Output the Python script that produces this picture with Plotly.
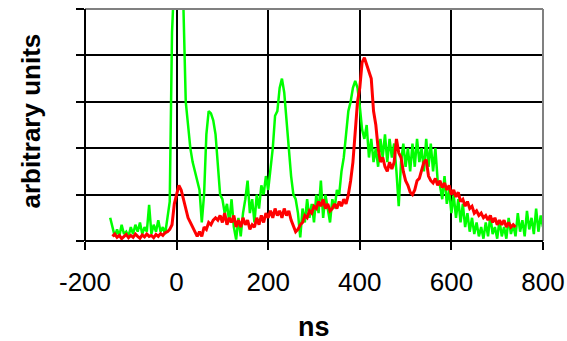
import plotly.graph_objects as go

# ---- data ----
green_start, green_step = -145, 5
green_vals = [
    0.5, 0.3, 0.1, 0.25, 0.1, 0.35, 0.15, 0.2, 0.1, 0.3,      # -145 .. -100
    0.15, 0.35, 0.2, 0.4, 0.15, 0.3, 0.2, 0.78, 0.15, 0.35,   # -95 .. -50
    0.2, 0.45, 0.2, 0.3, 0.15, 0.5, 0.85, 4.5, 7, 8,          # -45 .. 0
    8, 7, 5.0, 3.0, 2.5, 2.0, 1.7, 1.5, 1.3, 1.1,             # 5 .. 50
    0.4, 1.0, 2.3, 2.8, 2.75, 2.6, 2.3, 1.6, 1.0, 0.9,        # 55 .. 100
    0.6, 0.8, 0.4, 0.9, 0.3, 0.03, 0.5, 0.1, 0.6, 0.9,        # 105 .. 150
    1.3, 0.6, 0.9, 0.4, 1.0, 0.7, 1.2, 1.0, 1.4, 1.1,         # 155 .. 200
    1.6, 2.0, 2.7, 2.8, 3.3, 3.5, 3.2, 2.6, 2.0, 1.4,         # 205 .. 250
    1.0, 0.9, 0.6, 0.08, 0.7, 0.4, 0.9, 0.5, 0.8, 0.4,        # 255 .. 300
    1.0, 0.6, 1.3, 0.5, 1.0, 0.7, 0.4, 0.9, 0.7, 1.1,         # 305 .. 350
    1.0, 1.5, 1.8, 2.3, 2.8, 3.0, 3.3, 3.45, 3.3, 2.9,        # 355 .. 400
    2.4, 2.2, 2.5, 1.8, 2.2, 1.7, 2.0, 1.6, 2.2, 1.8,         # 405 .. 450
    2.3, 1.7, 2.2, 1.8, 2.1, 1.5, 0.75, 1.7, 2.1, 1.6,        # 455 .. 500
    2.0, 1.5, 2.1, 1.6, 2.2, 1.7, 2.0, 1.5, 2.2, 1.6,         # 505 .. 550
    2.1, 1.5, 2.0, 1.3, 1.2, 0.9, 1.4, 0.8, 1.1, 0.6,         # 555 .. 600
    1.0, 0.5, 0.9, 0.4, 0.8, 0.3, 0.6, 0.2, 0.5, 0.15,        # 605 .. 650
    0.4, 0.1, 0.3, 0.05, 0.4, 0.1, 0.55, 0.15, 0.3, 0.05,     # 655 .. 700
    0.45, 0.1, 0.3, 0.05, 0.5, 0.15, 0.35, 0.1, 0.6, 0.2,     # 705 .. 750
    0.45, 0.1, 0.65, 0.25, 0.5, 0.15, 0.7, 0.2, 0.55, 0.3,    # 755 .. 800
]

red_start, red_step = -140, 5
red_vals = [
    0.1, 0.15, 0.08, 0.12, 0.05, 0.1, 0.14, 0.07, 0.12, 0.08,   # -140 .. -95
    0.15, 0.1, 0.06, 0.13, 0.09, 0.15, 0.1, 0.12, 0.07, 0.14,   # -90 .. -45
    0.1, 0.16, 0.12, 0.18, 0.2, 0.25, 0.35, 0.8, 1.0, 1.2,      # -40 .. 5
    1.1, 0.9, 0.7, 0.5, 0.4, 0.3, 0.2, 0.1, 0.2, 0.1,           # 10 .. 55
    0.3, 0.25, 0.4, 0.35, 0.45, 0.5, 0.45, 0.55, 0.4, 0.6,      # 60 .. 105
    0.35, 0.5, 0.4, 0.55, 0.3, 0.45, 0.3, 0.5, 0.35, 0.45,      # 110 .. 155
    0.25, 0.35, 0.3, 0.5, 0.35, 0.55, 0.4, 0.6, 0.5, 0.65,      # 160 .. 205
    0.5, 0.7, 0.55, 0.65, 0.5, 0.7, 0.55, 0.65, 0.45, 0.3,      # 210 .. 255
    0.2, 0.25, 0.35, 0.4, 0.55, 0.5, 0.65, 0.6, 0.75, 0.7,      # 260 .. 305
    0.85, 0.75, 0.9, 0.7, 0.8, 0.65, 0.7, 0.8, 0.7, 0.85,       # 310 .. 355
    0.75, 0.9, 0.8, 1.0, 1.3, 1.7, 2.4, 3.0, 3.3, 3.85,         # 360 .. 405
    3.95, 3.8, 3.7, 3.5, 2.8, 2.5, 2.0, 1.7, 1.8, 1.6,          # 410 .. 455
    1.5, 1.7, 1.55, 1.7, 2.2, 1.9, 1.8, 1.5, 1.3, 1.2,          # 460 .. 505
    1.05, 1.0, 1.1, 1.3, 1.35, 1.5, 1.7, 1.75, 1.4, 1.3,        # 510 .. 555
    1.25, 1.35, 1.2, 1.3, 1.15, 1.25, 1.1, 1.2, 1.0, 1.1,       # 560 .. 605
    0.95, 1.05, 0.85, 0.9, 0.75, 0.85, 0.7, 0.75, 0.6, 0.65,    # 610 .. 655
    0.55, 0.6, 0.5, 0.55, 0.45, 0.55, 0.4, 0.5, 0.35, 0.45,     # 660 .. 705
    0.35, 0.45, 0.3, 0.4, 0.3, 0.35, 0.3,                       # 710 .. 740
]

x_ticks = [-200, 0, 200, 400, 600, 800]
x_tick_labels = ["-200", "0", "200", "400", "600", "800"]
y_ticks = [0, 1, 2, 3, 4, 5]
x_title = "ns"
y_title = "arbitrary units"

assert len(green_vals) == 190, len(green_vals)
assert len(red_vals) == 177, len(red_vals)

green_x = [green_start + green_step * i for i in range(len(green_vals))]
red_x = [red_start + red_step * i for i in range(len(red_vals))]

FONT = "Liberation Sans, Arial, sans-serif"

fig = go.Figure()
fig.add_trace(go.Scatter(x=green_x, y=green_vals, mode="lines",
                         line=dict(color="#00FF00", width=2.5), hoverinfo="skip"))
fig.add_trace(go.Scatter(x=red_x, y=red_vals, mode="lines",
                         line=dict(color="#FF0000", width=3), hoverinfo="skip"))

axis_common = dict(
    ticks="outside", ticklen=8, tickwidth=2, tickcolor="black",
    showgrid=True, gridcolor="black", gridwidth=2,
    zeroline=False, showline=False, automargin=False,
)

fig.update_layout(
    width=567, height=341,
    margin=dict(l=85, r=24, t=9, b=100),
    paper_bgcolor="white", plot_bgcolor="white",
    showlegend=False,
    font=dict(family=FONT, color="black"),
    xaxis=dict(range=[-200, 800], tickvals=x_ticks, ticktext=x_tick_labels,
               tickfont=dict(family=FONT, size=26, color="black"),
               ticklabelstandoff=10,
               **axis_common),
    yaxis=dict(range=[0, 5], tickvals=y_ticks, showticklabels=False,
               **axis_common),
    shapes=[
        dict(type="line", xref="x domain", yref="y domain", x0=0, x1=1, y0=1, y1=1,
             line=dict(color="#808080", width=2), layer="above"),
        dict(type="line", xref="x domain", yref="y domain", x0=1, x1=1, y0=0, y1=1,
             line=dict(color="#808080", width=2), layer="above"),
        dict(type="line", xref="x domain", yref="y domain", x0=0, x1=0, y0=0, y1=1,
             line=dict(color="black", width=2), layer="above"),
        dict(type="line", xref="x domain", yref="y domain", x0=0, x1=1, y0=0, y1=0,
             line=dict(color="black", width=2), layer="above"),
    ],
    annotations=[
        dict(text="<b>%s</b>" % x_title, xref="paper", yref="paper",
             x=0.5, y=-0.37, xanchor="center", yanchor="middle",
             showarrow=False, font=dict(family=FONT, size=27, color="black")),
        dict(text="<b>%s</b>" % y_title, xref="paper", yref="paper",
             x=-0.12, y=0.515, xanchor="center", yanchor="middle", textangle=-90,
             showarrow=False, font=dict(family=FONT, size=26, color="black")),
    ],
)

fig.write_html("out.html")
